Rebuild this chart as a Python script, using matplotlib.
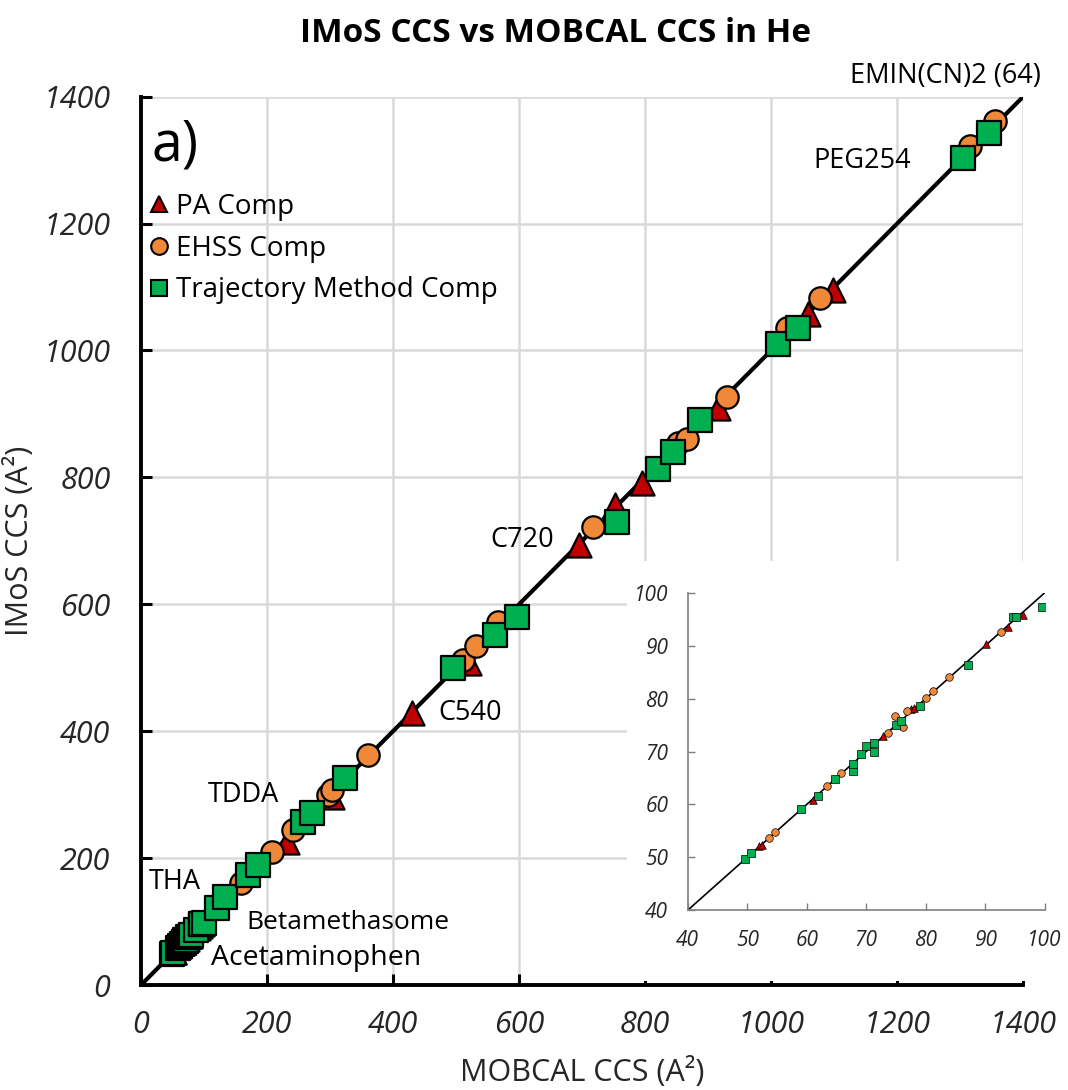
import matplotlib
matplotlib.use("Agg")
import matplotlib.pyplot as plt
from matplotlib.lines import Line2D
from matplotlib.patches import Rectangle

plt.rcParams['font.family'] = ['Open Sans', 'DejaVu Sans']

# PA comparison (red triangles): MOBCAL CCS, IMoS CCS
pa_x = [52.0, 52.5, 61.0, 72.8, 77.6, 78.0, 90.2, 93.8, 96.4,
        232, 303, 430, 520, 695, 752, 795, 916, 1059, 1098]
pa_y = [52.1, 52.4, 60.8, 72.9, 78.0, 78.2, 90.4, 93.5, 95.8,
        225, 296, 428, 508, 693, 756, 791, 909, 1058, 1095]

# EHSS comparison (orange circles)
ehss_x = [53.6, 54.6, 63.4, 65.8, 73.7, 74.8, 76.2, 76.8, 80.0, 81.2, 84.0, 92.7,
          158, 208, 241, 297, 303, 360, 511, 532, 567, 718, 852, 866, 930,
          1025, 1078, 1316, 1355]
ehss_y = [53.7, 54.7, 63.5, 66.0, 73.6, 76.7, 74.7, 77.7, 80.2, 81.4, 84.1, 92.6,
          161, 209, 244, 299, 307, 362, 512, 535, 572, 722, 855, 861, 926,
          1036, 1082, 1323, 1362]

# Trajectory method comparison (green squares)
tm_x = [49.7, 50.7, 59.0, 61.9, 64.7, 67.8, 67.8, 69.2, 70.0, 71.4, 71.4, 75.1,
        75.9, 79.1, 87.1, 94.7, 95.2, 99.6,
        120, 133, 170, 186, 257, 271, 324, 495, 562, 596, 756, 820, 845, 887,
        1011, 1043, 1305, 1346]
tm_y = [49.6, 50.9, 59.1, 61.6, 64.8, 66.4, 67.6, 69.5, 71.1, 70.0, 71.7, 75.1,
        75.7, 78.7, 86.4, 95.4, 95.4, 97.4,
        121, 139, 173, 189, 257, 271, 326, 499, 551, 580, 729, 814, 840, 890,
        1011, 1036, 1303, 1342]

labels = ['PA Comp', 'EHSS Comp', 'Trajectory Method Comp']
red = '#C00000'
orange = '#F0883A'
green = '#00B050'

fig = plt.figure(figsize=(10.68, 10.90), dpi=100)
ax = fig.add_axes([0.132, 0.0963, 0.826, 0.815])

ax.plot([0, 1400], [0, 1400], color='black', lw=3, zorder=2)
ax.scatter(pa_x, pa_y, marker='^', s=300, c=red, edgecolors='black', linewidths=1.6, zorder=3)
ax.scatter(ehss_x, ehss_y, marker='o', s=260, c=orange, edgecolors='black', linewidths=1.6, zorder=4)
ax.scatter(tm_x, tm_y, marker='s', s=300, c=green, edgecolors='black', linewidths=1.6, zorder=5)

ax.set_xlim(0, 1400)
ax.set_ylim(0, 1400)
ax.set_xticks(range(0, 1401, 200))
ax.set_yticks(range(0, 1401, 200))
ax.grid(True, color='#d9d9d9', lw=1.8)
ax.set_axisbelow(True)
for s in ['top', 'right']:
    ax.spines[s].set_visible(False)
for s in ['left', 'bottom']:
    ax.spines[s].set_linewidth(2.8)
ax.tick_params(direction='in', length=8, width=2.2, labelsize=22,
               labelcolor='#262626')
ax.tick_params(axis='x', pad=18)
ax.tick_params(axis='y', pad=22)
for t in ax.get_xticklabels() + ax.get_yticklabels():
    t.set_fontstyle('italic')

ax.set_xlabel('MOBCAL CCS (A\u00b2)', fontsize=22, color='#262626', labelpad=12)
ax.set_ylabel('IMoS CCS (A\u00b2)', fontsize=22, color='#262626', labelpad=6)
fig.text(0.52, 0.969, 'IMoS CCS vs MOBCAL CCS in He', ha='center', va='center',
         fontsize=24, fontweight='bold')

ax.text(54, 1323, 'a)', fontsize=40, ha='center', va='center')
ax.text(1276, 1433, 'EMIN(CN)2 (64)', fontsize=19.5, ha='center', va='center', clip_on=False)
ax.text(1144, 1299, 'PEG254', fontsize=19.5, ha='center', va='center')
ax.text(605, 701, 'C720', fontsize=19.5, ha='center', va='center')
ax.text(522, 428, 'C540', fontsize=19.5, ha='center', va='center')
ax.text(163, 299, 'TDDA', fontsize=19.5, ha='center', va='center')
ax.text(54, 162, 'THA', fontsize=19.5, ha='center', va='center')
ax.text(328, 98, 'Betamethasome', fontsize=19, ha='center', va='center')
ax.text(278, 43, 'Acetaminophen', fontsize=20.5, ha='center', va='center')

handles = [
    Line2D([], [], ls='none', marker='^', ms=12, mfc=red, mec='black', mew=1.5),
    Line2D([], [], ls='none', marker='o', ms=12, mfc=orange, mec='black', mew=1.5),
    Line2D([], [], ls='none', marker='s', ms=12, mfc=green, mec='black', mew=1.5),
]
ax.legend(handles, labels, loc='center left', bbox_to_anchor=(0.0, 0.829), frameon=False,
          fontsize=20, handletextpad=0.15, handlelength=0.9, labelspacing=0.5,
          borderaxespad=0.0, borderpad=0.2)

# white panel behind the inset
ax.add_patch(Rectangle((0.587, 0.100), 0.413, 0.385, transform=fig.transFigure,
                       facecolor='white', edgecolor='none', zorder=1.5, clip_on=False))

ins = fig.add_axes([0.644, 0.165, 0.334, 0.291])
ins.plot([40, 100], [40, 100], color='black', lw=1.2, zorder=2)
ins.scatter(pa_x, pa_y, marker='^', s=30, c=red, edgecolors='black', linewidths=0.5, zorder=3)
ins.scatter(ehss_x, ehss_y, marker='o', s=30, c=orange, edgecolors='black', linewidths=0.5, zorder=4)
ins.scatter(tm_x, tm_y, marker='s', s=40, c=green, edgecolors='black', linewidths=0.5, zorder=5)
ins.set_xlim(40, 100)
ins.set_ylim(40, 100)
ins.set_xticks(range(40, 101, 10))
ins.set_yticks(range(40, 101, 10))
for s in ['top', 'right']:
    ins.spines[s].set_visible(False)
for s in ['left', 'bottom']:
    ins.spines[s].set_color('#7f7f7f')
    ins.spines[s].set_linewidth(1.2)
ins.tick_params(direction='in', length=5, width=1, color='#7f7f7f', pad=14,
                labelsize=15, labelcolor='#262626')
for t in ins.get_xticklabels() + ins.get_yticklabels():
    t.set_fontstyle('italic')

fig.savefig('out.png', dpi=100)
